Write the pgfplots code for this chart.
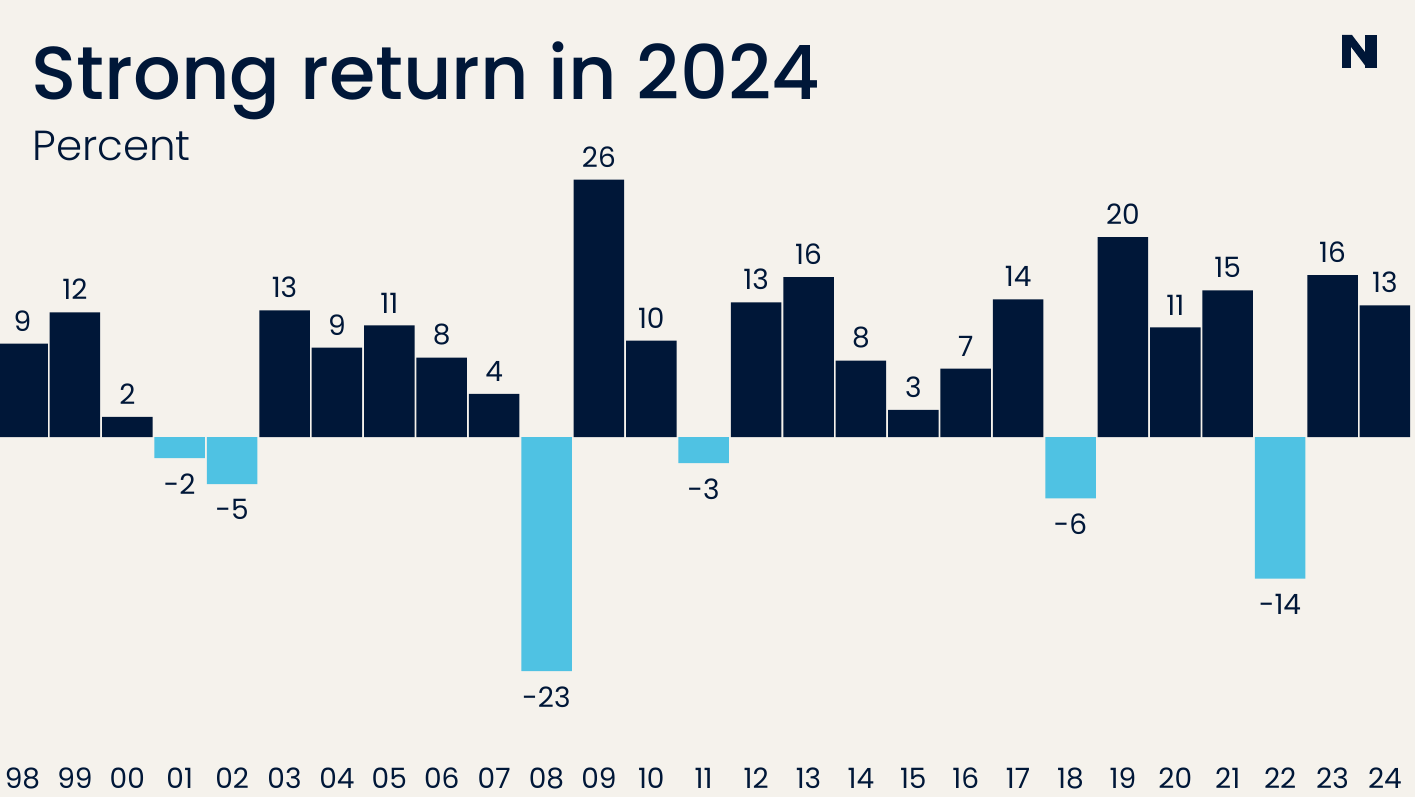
\documentclass[border=0pt]{standalone}
\usepackage{pgfplots}
\pgfplotsset{compat=1.18}
\usepackage{pgfplotstable}
\usepackage{fontspec}
\setmainfont{Poppins}
\newfontfamily\titlefont{Poppins Medium}
\newfontfamily\lightfont{Poppins Light}

\definecolor{navy}{HTML}{001738}
\definecolor{skyb}{HTML}{4FC2E3}
\definecolor{bgc}{HTML}{F5F2EC}

% x = position (98 -> 0, ..., 24 -> 26), y = return, lab = printed label
\pgfplotstableread{
x  y     lab
0  9.3   9
1  12.4  12
2  2.0   2
5  12.6  13
6  8.9   9
7  11.1  11
8  7.9   8
9  4.3   4
11 25.6  26
12 9.6   10
14 13.4  13
15 15.9  16
16 7.6   8
17 2.7   3
18 6.8   7
19 13.7  14
21 19.9  20
22 10.9  11
23 14.6  15
25 16.1  16
26 13.1  13
}\posdata

\pgfplotstableread{
x  y      lab
3  -2.1   -2
4  -4.7   -5
10 -23.3  -23
13 -2.6   -3
20 -6.1   -6
24 -14.1  -14
}\negdata

\begin{document}
\begin{tikzpicture}
\fill[bgc] (0,0) rectangle (707.5pt,398.5pt);
\useasboundingbox (0,0) rectangle (707.5pt,398.5pt);

\node[anchor=base west, inner sep=0pt, text=navy, font=\titlefont\fontsize{37.5}{44}\selectfont]
  at (15.5pt,348.5pt) {Strong return in 2024};
\node[anchor=base west, inner sep=0pt, text=navy, font=\lightfont\fontsize{21}{25}\selectfont]
  at (16pt,318pt) {Percent};

% logo
\fill[navy] (671pt,381pt) rectangle (675.5pt,364.5pt);
\fill[navy] (682.5pt,381pt) rectangle (688.5pt,364.5pt);
\fill[navy] (671pt,381pt) -- (676pt,381pt) -- (688.5pt,364.5pt) -- (683.5pt,364.5pt) -- cycle;

\begin{axis}[
  at={(-1.85pt,19.2pt)}, anchor=south west,
  scale only axis, width=707.4pt, height=301.5pt,
  xmin=-0.5, xmax=26.5, ymin=-32, ymax=28,
  ybar, bar shift=0pt, bar width=25.25pt,
  axis line style={draw=none}, tick style={draw=none},
  ytick=\empty,
  xtick={0,...,26},
  xticklabels={98,99,00,01,02,03,04,05,06,07,08,09,10,11,12,13,14,15,16,17,18,19,20,21,22,23,24},
  xticklabel style={anchor=center, yshift=-5.5pt, text=navy, font=\fontsize{14}{16}\selectfont},
  point meta=explicit symbolic,
  nodes near coords,
  nodes near coords style={text=navy, inner sep=0pt, font=\fontsize{14}{16}\selectfont},
  clip=false,
]
\addplot[fill=navy, draw=none, nodes near coords style={anchor=south, yshift=6pt}]
  table[x=x, y=y, meta=lab] {\posdata};
\addplot[fill=skyb, draw=none, nodes near coords style={anchor=north, yshift=-7.5pt}]
  table[x=x, y=y, meta=lab] {\negdata};
\end{axis}
\end{tikzpicture}
\end{document}
